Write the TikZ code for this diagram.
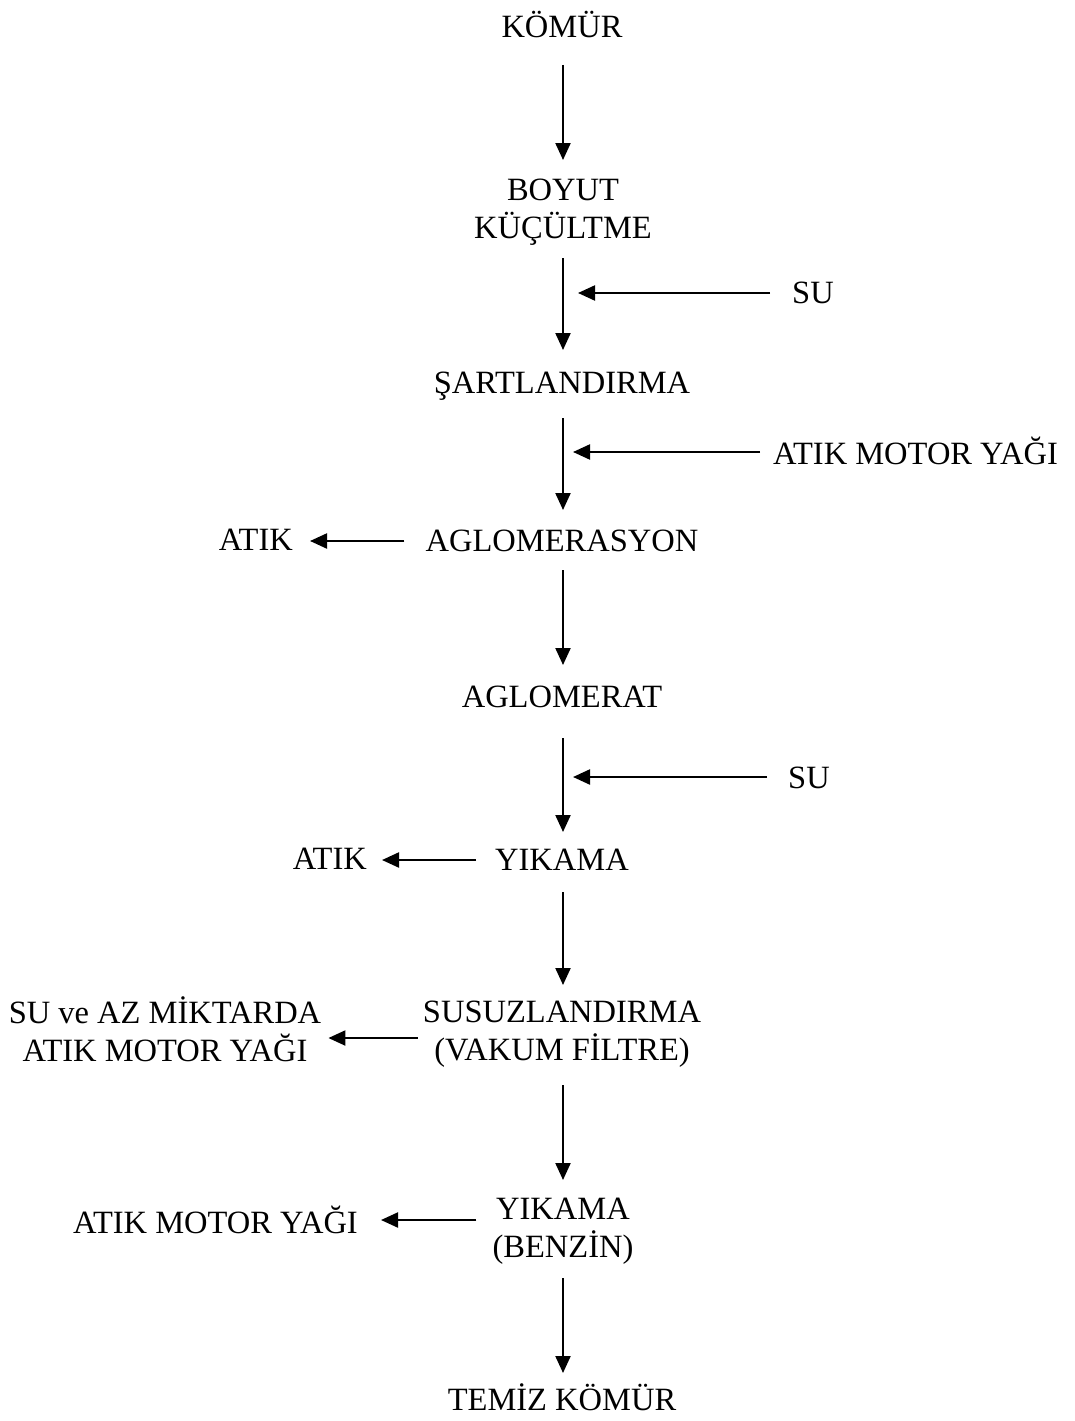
\documentclass[tikz,border=0pt]{standalone}
\usepackage{fontspec}
\setmainfont{Liberation Serif}
\usetikzlibrary{arrows.meta}
\begin{document}
\begin{tikzpicture}[x=1pt,y=-1pt,
  lbl/.style={inner sep=0pt,align=center,font=\fontsize{32.5}{38.5}\selectfont},
  arr/.style={line width=2.2pt,-{Triangle[length=17pt,width=15pt]}}]
\useasboundingbox (0,0) rectangle (1075,1421);
% main column
\coordinate (c1) at (563,0);
\node[lbl] (kom)  at (562,24)   {KÖMÜR};
\node[lbl] (boy)  at (563,212)  {BOYUT\\KÜÇÜLTME};
\node[lbl] (sar)  at (562,386)  {ŞARTLANDIRMA};
\node[lbl] (agl)  at (562,541)  {AGLOMERASYON};
\node[lbl] (aglt) at (562,697)  {AGLOMERAT};
\node[lbl] (yik1) at (562,860)  {YIKAMA};
\node[lbl] (sus)  at (562,1034) {SUSUZLANDIRMA\\(VAKUM FİLTRE)};
\node[lbl] (yik2) at (563,1231) {YIKAMA\\(BENZİN)};
\node[lbl] (tem)  at (562,1397) {TEMİZ KÖMÜR};
% side labels
\node[lbl,anchor=west] (su1)  at (792,293) {SU};
\node[lbl,anchor=west] (yag1) at (773,451) {ATIK MOTOR YAĞI};
\node[lbl,anchor=east] (atik1) at (293,540) {ATIK};
\node[lbl,anchor=west] (su2)  at (788,778) {SU};
\node[lbl,anchor=east] (atik2) at (367,859) {ATIK};
\node[lbl] (suaz) at (165,1029) {SU ve AZ MİKTARDA\\ATIK MOTOR YAĞI};
\node[lbl,anchor=east] (yag2) at (358,1220) {ATIK MOTOR YAĞI};
% junction points on the main line
\coordinate (j1) at (578,293);
\coordinate (j2) at (573,452);
\coordinate (j3) at (573,777);
% vertical arrows
\draw[arr,shorten <=41pt,shorten >=52pt] (kom.center -| c1) -- (boy.center -| c1);
\draw[arr,shorten <=46pt,shorten >=36pt] (boy.center -| c1) -- (sar.center -| c1);
\draw[arr,shorten <=32pt,shorten >=31pt] (sar.center -| c1) -- (agl.center -| c1);
\draw[arr,shorten <=29pt,shorten >=32pt] (agl.center -| c1) -- (aglt.center -| c1);
\draw[arr,shorten <=41pt,shorten >=28pt] (aglt.center -| c1) -- (yik1.center -| c1);
\draw[arr,shorten <=32pt,shorten >=49pt] (yik1.center -| c1) -- (sus.center -| c1);
\draw[arr,shorten <=51pt,shorten >=51pt] (sus.center -| c1) -- (yik2.center -| c1);
\draw[arr,shorten <=47pt,shorten >=24pt] (yik2.center -| c1) -- (tem.center -| c1);
% inputs
\draw[arr,shorten <=22pt] (j1 -| su1.west) -- (j1);
\draw[arr,shorten <=13pt] (j2 -| yag1.west) -- (j2);
\draw[arr,shorten <=21pt] (j3 -| su2.west) -- (j3);
% outputs
\draw[arr,shorten <=21pt,shorten >=17pt] (agl.west) -- (agl.west -| atik1.east);
\draw[arr,shorten <=19pt,shorten >=15pt] (yik1.west) -- (yik1.west -| atik2.east);
\draw[arr,shorten <=5pt,shorten >=7pt] ([yshift=-4pt]sus.west) -- ([yshift=-4pt]sus.west -| suaz.east);
\draw[arr,shorten <=16pt,shorten >=23pt] (yag2.east -| yik2.west) -- (yag2.east);
\end{tikzpicture}
\end{document}
